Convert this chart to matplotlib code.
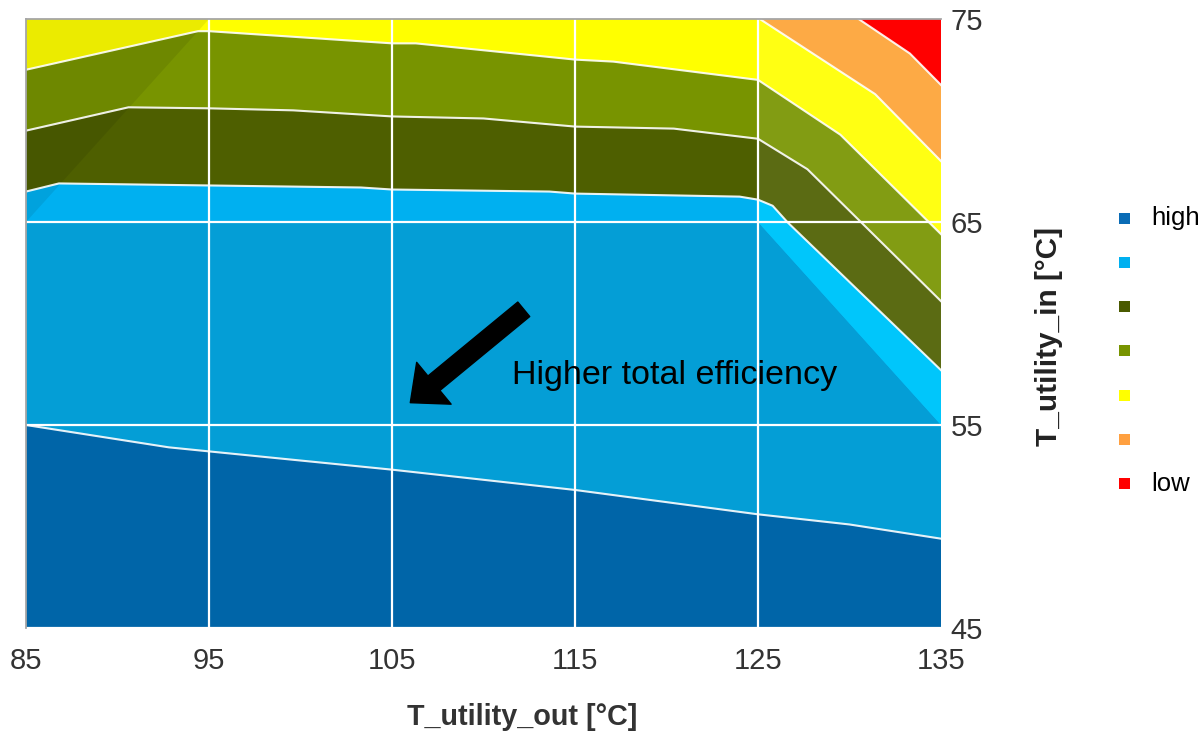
import matplotlib
matplotlib.use("Agg")
import matplotlib.pyplot as plt
from matplotlib.patches import Polygon, Rectangle, FancyArrowPatch, ArrowStyle

plt.rcParams['font.family'] = ['Liberation Sans', 'DejaVu Sans']

# Axis ranges and ticks
X_MIN, X_MAX = 85, 135
Y_MIN, Y_MAX = 45, 75
x_ticks = [85, 95, 105, 115, 125, 135]
y_ticks = [45, 55, 65, 75]

# Contour boundaries between efficiency bands (T_utility_out, T_utility_in)
high_edge_x = [85, 92.8, 95, 105, 115, 125, 130, 135]
high_edge_y = [55.0, 53.9, 53.7, 52.8, 51.8, 50.6, 50.1, 49.4]

lightblue_edge_x = [85, 86.8, 95, 103.3, 105, 113.6, 115, 124, 125, 125.8, 126.6, 135]
lightblue_edge_y = [66.5, 66.9, 66.8, 66.7, 66.6, 66.5, 66.4, 66.25, 66.1, 65.8, 65.0, 57.7]

darkolive_edge_x = [85, 90.6, 95, 99.6, 105, 110, 115, 120.4, 125, 127.7, 135]
darkolive_edge_y = [69.5, 70.65, 70.6, 70.5, 70.2, 70.1, 69.7, 69.6, 69.1, 67.6, 61.1]

olive_edge_x = [85, 94.4, 95, 105, 106.3, 115, 117.1, 125, 129.5, 135]
olive_edge_y = [72.5, 74.4, 74.4, 73.8, 73.8, 73.0, 72.9, 72.0, 69.3, 64.4]

yellow_edge_x = [125.1, 131.4, 135]
yellow_edge_y = [75.0, 71.3, 68.0]

orange_edge_x = [130.5, 133.3, 135]
orange_edge_y = [75.0, 73.3, 71.75]

# Surface facet shading (lit / shadowed facets of the surface)
lower_facet_x = [85, 125, 135]
lower_facet_y = [65, 65, 55]
lit_facet_x = [125, 135, 135, 125]
lit_facet_y = [75, 75, 55, 65]
shadow_facet_x = [85, 95, 85]
shadow_facet_y = [65, 75, 75]

# Band colours, from high to low efficiency
band_colors = ['#0065a8', '#00b0f0', '#4e5f00', '#789400', '#ffff00', '#fdaa45', '#ff0000']
lower_facet_color = '#049ed6'
lit_lightblue_color = '#00c6fb'
legend_labels = ['high', '', '', '', '', '', 'low']
legend_colors = ['#0a6cb6', '#00b0f0', '#4a5a00', '#789400', '#ffff00', '#ffa040', '#ff0000']

annotation_text = 'Higher total efficiency'
x_label = 'T_utility_out [°C]'
y_label = 'T_utility_in [°C]'


def region_below(xs, ys):
    pts = []
    if xs[0] > X_MIN:
        pts.append((X_MIN, Y_MAX))
    pts += list(zip(xs, ys))
    pts += [(X_MAX, Y_MIN), (X_MIN, Y_MIN)]
    return pts


W, H = 1204, 733
fig = plt.figure(figsize=(W / 100, H / 100), dpi=100)
ax = fig.add_axes([26 / W, 1 - 628 / H, 915 / W, 609 / H])
ax.set_xlim(X_MIN, X_MAX)
ax.set_ylim(Y_MIN, Y_MAX)

# Bands painted from the top (low efficiency) down
ax.add_patch(Polygon([(X_MIN, Y_MIN), (X_MAX, Y_MIN), (X_MAX, Y_MAX), (X_MIN, Y_MAX)],
                     closed=True, facecolor=band_colors[6], edgecolor='none', zorder=1))
edges = [
    (orange_edge_x, orange_edge_y, band_colors[5]),
    (yellow_edge_x, yellow_edge_y, band_colors[4]),
    (olive_edge_x, olive_edge_y, band_colors[3]),
    (darkolive_edge_x, darkolive_edge_y, band_colors[2]),
    (lightblue_edge_x, lightblue_edge_y, band_colors[1]),
    (lower_facet_x, lower_facet_y, lower_facet_color),
    (high_edge_x, high_edge_y, band_colors[0]),
]
band_patches = {}
for xs, ys, c in edges:
    p = Polygon(region_below(xs, ys), closed=True, facecolor=c, edgecolor='none', zorder=1)
    ax.add_patch(p)
    band_patches[c] = p

# Facet lighting: brighter right-hand facets, shadowed upper-left facet
below_yellow = Polygon(region_below(yellow_edge_x, yellow_edge_y), closed=True,
                       transform=ax.transData)
lit = Polygon(list(zip(lit_facet_x, lit_facet_y)), closed=True,
              facecolor='white', alpha=0.08, edgecolor='none', zorder=1.2)
ax.add_patch(lit)
lit.set_clip_path(below_yellow)

below_lightblue = Polygon(region_below(lightblue_edge_x, lightblue_edge_y), closed=True,
                          transform=ax.transData)
lit_blue = Polygon(list(zip(lit_facet_x, lit_facet_y)), closed=True,
                   facecolor=lit_lightblue_color, edgecolor='none', zorder=1.3)
ax.add_patch(lit_blue)
lit_blue.set_clip_path(below_lightblue)

ax.add_patch(Polygon(list(zip(shadow_facet_x, shadow_facet_y)), closed=True,
                     facecolor='black', alpha=0.08, edgecolor='none', zorder=1.2))

# Contour lines
for xs, ys in [(high_edge_x, high_edge_y), (lightblue_edge_x, lightblue_edge_y),
               (darkolive_edge_x, darkolive_edge_y), (olive_edge_x, olive_edge_y),
               (yellow_edge_x, yellow_edge_y), (orange_edge_x, orange_edge_y)]:
    ax.plot(xs, ys, color='white', lw=1.5, alpha=0.9, zorder=2, solid_joinstyle='round')

# Gridlines
for xv in x_ticks[1:-1]:
    ax.axvline(xv, color='white', lw=1.6, zorder=2.5)
for yv in y_ticks[:-1]:
    ax.axhline(yv, color='white', lw=1.6, zorder=2.5)

for side in ['right', 'bottom']:
    ax.spines[side].set_visible(False)
for side in ['top', 'left']:
    ax.spines[side].set_color('#a6a6a6')
    ax.spines[side].set_linewidth(1.3)
    ax.spines[side].set_zorder(3)

ax.set_xticks(x_ticks)
ax.set_yticks(y_ticks)
ax.yaxis.tick_right()
ax.tick_params(axis='both', length=0, labelsize=21, colors='#333333')
ax.tick_params(axis='x', pad=14)
ax.tick_params(axis='y', pad=7)

ax.set_xlabel(x_label, fontsize=20.7, fontweight='bold', color='#333333')
ax.xaxis.label.set_va('center')
ax.xaxis.set_label_coords((522 - 26) / 915, (628 - 717) / 609)
ax.yaxis.set_label_position('right')
ax.set_ylabel(y_label, fontsize=21.4, fontweight='bold', color='#222222', rotation=90)
ax.yaxis.label.set_va('center')
ax.yaxis.set_label_coords((1049 - 26) / 915, (628 - 336) / 609)

# Annotation arrow and text
arrow = FancyArrowPatch((112.2, 60.7), (106.0, 56.1),
                        arrowstyle=ArrowStyle('Simple', head_length=22, head_width=39, tail_width=13.5),
                        mutation_scale=1, color='black', shrinkA=0, shrinkB=0, zorder=4)
ax.add_patch(arrow)
ax.text(111.55, 57.45, annotation_text, fontsize=24.5, ha='left', va='center',
        color='black', zorder=4)

# Legend
sq = 11
for i, (c, lab) in enumerate(zip(legend_colors, legend_labels)):
    yc = 218 + i * 44.3
    fig.add_artist(Rectangle(((1124 - sq / 2) / W, 1 - (yc + sq / 2) / H), sq / W, sq / H,
                             transform=fig.transFigure, facecolor=c, edgecolor='none'))
    if lab:
        fig.text(1151 / W, 1 - yc / H, lab, fontsize=18.5, ha='left', va='center',
                 color='black')

fig.savefig('out.png', dpi=100)
